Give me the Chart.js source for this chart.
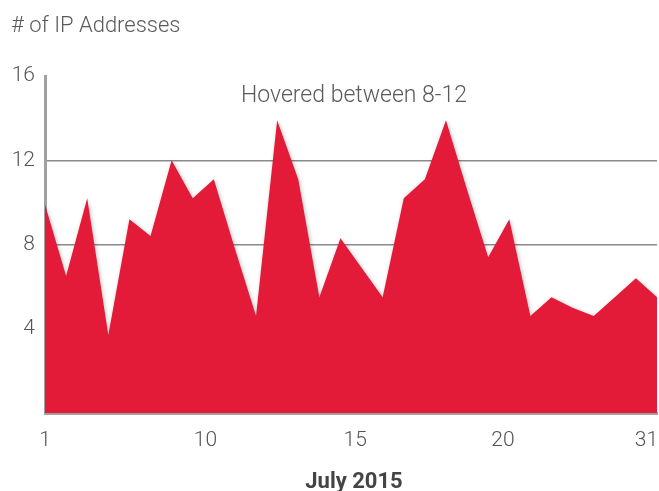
<!DOCTYPE html>
<html>
<head>
<meta charset="utf-8">
<style>
  html, body { margin: 0; padding: 0; background: #fff; }
  #wrap { width: 659px; height: 491px; }
</style>
<script src="https://cdn.jsdelivr.net/npm/chart.js@4.4.1/dist/chart.umd.min.js"></script>
</head>
<body>
<div id="wrap"><canvas id="areaChart"></canvas></div>
<script>
// values, one per point (left to right)
const ipCounts = [9.9, 6.5, 10.2, 3.7, 9.2, 8.4, 12.0, 10.2, 11.1, 7.8,
                  4.6, 13.9, 11.1, 5.5, 8.3, 6.9, 5.5, 10.2, 11.1, 13.9,
                  10.6, 7.4, 9.2, 4.6, 5.5, 5.0, 4.6, 5.5, 6.4, 5.5];
// x tick labels and where they sit along the point index
const dayLabels = ['1', '10', '15', '20', '31'];
const dayTickAt = [0, 7.6, 14.7, 21.7, 28.5];
const yTicks = [4, 8, 12, 16];
const gridAt = [8, 12];

const chartTitle = '# of IP Addresses';
const hoverNote = 'Hovered between 8-12';
const xTitle = 'July 2015';

const points = ipCounts.map((v, i) => ({ x: i, y: v }));

// draws the loose texts around the plot
const textPlugin = {
    id: 'looseText',
    afterDraw(chart) {
        const c = chart.ctx;
        const area = chart.chartArea;
        c.save();
        c.textBaseline = 'alphabetic';
        c.fillStyle = '#5a5a5a';
        c.textAlign = 'left';
        c.font = '300 22px Roboto';
        c.fillText(chartTitle, 11, 32);
        c.font = '300 23px Roboto';
        c.fillText(hoverNote, 241, 102);
        c.fillStyle = '#444';
        c.font = 'bold 22px Roboto';
        c.textAlign = 'center';
        c.fillText(xTitle, 354, 488);
        c.restore();
    }
};

// soft shadow under the red area
const shadowPlugin = {
    id: 'areaShadow',
    beforeDatasetsDraw(chart) {
        const c = chart.ctx;
        c.save();
        c.shadowColor = 'rgba(0,0,0,0.25)';
        c.shadowBlur = 4;
        c.shadowOffsetX = 1;
        c.shadowOffsetY = 1;
    },
    afterDatasetsDraw(chart) {
        chart.ctx.restore();
    }
};

const ctx = document.getElementById('areaChart');

new Chart(ctx, {
    type: 'line',
    data: {
        datasets: [{
            label: 'IP Addresses',
            data: points,
            fill: 'origin',
            backgroundColor: '#E31A38',
            borderWidth: 0,
            pointRadius: 0,
            tension: 0
        }]
    },
    options: {
        responsive: true,
        maintainAspectRatio: false,
        animation: false,
        layout: { padding: { top: 76, right: 2, left: 0, bottom: 0 } },
        plugins: {
            legend: { display: false },
            tooltip: { enabled: false }
        },
        scales: {
            x: {
                type: 'linear',
                min: 0,
                max: ipCounts.length - 1,
                afterBuildTicks: (scale) => {
                    scale.ticks = dayTickAt.map(v => ({ value: v }));
                },
                afterFit: (scale) => {
                    scale.height = 78;
                    scale.paddingLeft = 0;
                    scale.paddingRight = 0;
                },
                ticks: {
                    autoSkip: false,
                    maxRotation: 0,
                    padding: 15,
                    color: '#555',
                    font: { family: 'Roboto', size: 21, weight: '300' },
                    callback: (v, i) => dayLabels[i]
                },
                grid: { display: false, drawTicks: false },
                border: { display: true, color: '#a0a0a0', width: 3 }
            },
            y: {
                min: 0,
                max: 16,
                afterBuildTicks: (scale) => {
                    scale.ticks = yTicks.map(v => ({ value: v }));
                },
                afterFit: (scale) => { scale.width = 45; },
                ticks: {
                    padding: 10,
                    color: '#555',
                    font: { family: 'Roboto', size: 21, weight: '300' }
                },
                grid: {
                    drawTicks: false,
                    lineWidth: 1.5,
                    color: (c) => gridAt.includes(c.tick && c.tick.value) ? '#8a8a8a' : 'rgba(0,0,0,0)'
                },
                border: { display: true, color: '#a0a0a0', width: 3 }
            }
        }
    },
    plugins: [textPlugin, shadowPlugin]
});
</script>
</body>
</html>
